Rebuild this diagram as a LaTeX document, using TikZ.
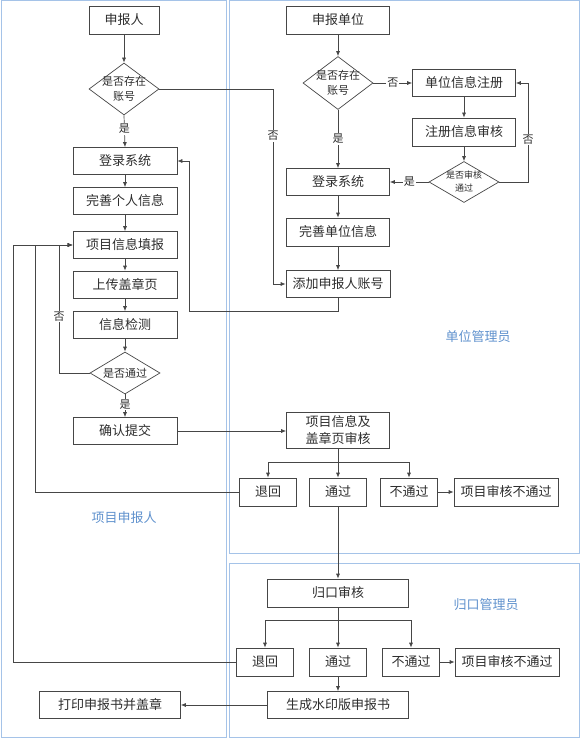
\documentclass[tikz,border=0pt]{standalone}
\usepackage{fontspec}
\setmainfont{Noto Sans CJK SC}
\usetikzlibrary{%
  shapes.geometric,%
  arrows.meta%
}
\definecolor{lanec}{RGB}{165,195,232}
\definecolor{lanetext}{RGB}{95,145,205}
\definecolor{linec}{RGB}{70,70,70}
\definecolor{textc}{RGB}{45,45,45}

\begin{document}
\begin{tikzpicture}[
      x=1pt, y=-1pt,
      every text node part/.style={align=center},
      lane/.style={draw=lanec, line width=1pt},
      lanename/.style={
        text=lanetext,
        inner sep=0pt,
        font=\fontsize{13}{16}\selectfont
      },
      box/.style={
        rectangle,
        draw=linec,
        line width=0.7pt,
        minimum width=#1,
        minimum height=27pt,
        inner sep=0pt,
        text=textc,
        font=\fontsize{13}{17}\selectfont
      },
      box/.default=104pt,
      decide/.style 2 args={
        diamond,
        draw=linec,
        line width=0.7pt,
        minimum width=#1,
        minimum height=#2,
        inner sep=0pt
      },
      dtext/.style={
        text=textc,
        inner sep=0pt,
        font=\fontsize{11}{15}\selectfont
      },
      yesno/.style={
        fill=white,
        inner sep=1pt,
        text=textc,
        font=\fontsize{11}{13}\selectfont
      },
      wire/.style={draw=linec, line width=0.7pt},
      flow/.style={
        wire,
        -{Latex[length=5pt,width=4pt]}
      }
    ]
    \useasboundingbox (0,0) rectangle (581,738);

    \draw[lane] (1,1) rectangle (226,737);
    \draw[lane] (229,1) rectangle (579,553);
    \draw[lane] (229,563) rectangle (579,737);

    \node[lanename] (lblA) at (124,518) {项目申报人};
    \node[lanename] (lblB) at (478,337) {单位管理员};
    \node[lanename] (lblC) at (486,605) {归口管理员};

    \node[box=70pt, minimum height=28pt]
      (sbr) at (124,20)
      {申报人};
    \node[decide={70pt}{52pt}]
      (dia1) at (124,89) {};
    \node[dtext] (dia1t) at (dia1) {是否存在\\账号};
    \node[box] (lg1) at (125,161) {登录系统};
    \node[box] (ws1) at (125,201) {完善个人信息};
    \node[box] (tb) at (125,245) {项目信息填报};
    \node[box] (sc) at (125,284.5) {上传盖章页};
    \node[box] (jc) at (125,325) {信息检测};
    \node[decide={70pt}{42pt}]
      (dia2) at (125,373) {};
    \node[dtext] (dia2t) at (dia2) {是否通过};
    \node[box] (qr) at (125,431) {确认提交};

    \node[box=103pt, minimum height=28pt]
      (sbdw) at (338,20)
      {申报单位};
    \node[decide={70pt}{53pt}]
      (dia3) at (338,83) {};
    \node[dtext] (dia3t) at (dia3) {是否存在\\账号};
    \node[box=103pt] (zc) at (464,83) {单位信息注册};
    \node[box=103pt, minimum height=28pt] (sh) at (464,132) {注册信息审核};
    \node[decide={70pt}{41pt}]
      (dia4) at (464,182) {};
    \node[dtext, font=\fontsize{9}{13}\selectfont]
      (dia4t) at (dia4)
      {是否审核\\通过};
    \node[box=103pt] (lg2) at (338,182) {登录系统};
    \node[box=103pt, minimum height=28pt] (ws2) at (338,232) {完善单位信息};
    \node[box=104pt] (tj) at (338,284) {添加申报人账号};

    \node[box=103pt, minimum height=36pt, font=\fontsize{13}{17}\selectfont]
      (xs) at (338,430)
      {项目信息及\\盖章页审核};
    \node[box=57pt, minimum height=28pt] (th1) at (268,492) {退回};
    \node[box=57pt, minimum height=28pt] (tg1) at (338,492) {通过};
    \node[box=57pt, minimum height=28pt] (btg1) at (409,492) {不通过};
    \node[box=104pt, minimum height=28pt] (bt1) at (506,492) {项目审核不通过};

    \node[box=141pt, minimum height=28pt] (gk) at (338,593) {归口审核};
    \node[box=57pt, minimum height=28pt] (th2) at (265,662) {退回};
    \node[box=57pt, minimum height=28pt] (tg2) at (338,662) {通过};
    \node[box=57pt, minimum height=28pt] (btg2) at (411,662) {不通过};
    \node[box=104pt, minimum height=28pt] (bt2) at (507,662) {项目审核不通过};
    \node[box=141pt] (sy) at (338,705) {生成水印版申报书};
    \node[box=141pt] (dy) at (110,705) {打印申报书并盖章};

    \coordinate (railA) at (273,0);
    \coordinate (railB) at (189,311);
    \coordinate (railC) at (528,0);
    \coordinate (railD) at (59,0);
    \coordinate (railE) at (35,0);
    \coordinate (railF) at (13,0);
    \coordinate (fork1) at (0,462);
    \coordinate (fork2) at (0,620);

    \draw[flow] (sbr) -- (dia1);
    \draw[flow] (dia1.south) -- node[yesno, pos=0.42] (y1) {是} (lg1.north);
    \draw[flow] (lg1) -- (ws1);
    \draw[flow] (ws1) -- (tb);
    \draw[flow] (tb) -- (sc);
    \draw[flow] (sc) -- (jc);
    \draw[flow] (jc) -- (dia2);
    \draw[flow] (dia2.south) -- node[yesno, pos=0.45] (y2) {是} (qr.north);
    \draw[flow] (dia2.west) -- (dia2.west -| railD)
      -- node[yesno, pos=0.44] (n2) {否} (tb.west -| railD) -- (tb.west);
    \draw[flow] (dia1.east) -- (dia1.east -| railA)
      -- node[yesno, pos=0.24] (n1) {否} (tj.west -| railA) -- (tj.west);

    \draw[flow] (sbdw) -- (dia3);
    \draw[flow] (dia3.east) -- node[yesno, pos=0.5] (n3) {否} (zc.west);
    \draw[flow] (dia3.south) -- node[yesno, pos=0.5] (y3) {是} (lg2.north);
    \draw[flow] (zc) -- (sh);
    \draw[flow] (sh) -- (dia4);
    \draw[flow] (dia4.west) -- node[yesno, pos=0.5] (y4) {是} (lg2.east);
    \draw[flow] (dia4.east) -- (dia4.east -| railC)
      -- node[yesno, pos=0.43] (n4) {否} (zc.east -| railC) -- (zc.east);
    \draw[flow] (lg2) -- (ws2);
    \draw[flow] (ws2) -- (tj);
    \draw[flow] (tj.south) -- (tj.south |- railB) -- (railB)
      -- (railB |- lg1.east) -- (lg1.east);

    \draw[flow] (qr.east) -- (qr.east -| xs.west);
    \draw[wire] (xs.south) -- (xs.south |- fork1);
    \draw[wire] (fork1 -| th1) -- (fork1 -| btg1);
    \draw[flow] (fork1 -| th1) -- (th1.north);
    \draw[flow] (xs.south) -- (tg1.north);
    \draw[flow] (fork1 -| btg1) -- (btg1.north);
    \draw[flow] (btg1) -- (bt1);
    \draw[flow] (th1.west) -- (th1.west -| railE)
      -- (tb.west -| railE) -- (tb.west);

    \draw[flow] (tg1.south) -- (gk.north);
    \draw[wire] (gk.south) -- (gk.south |- fork2);
    \draw[wire] (fork2 -| th2) -- (fork2 -| btg2);
    \draw[flow] (fork2 -| th2) -- (th2.north);
    \draw[flow] (gk.south) -- (tg2.north);
    \draw[flow] (fork2 -| btg2) -- (btg2.north);
    \draw[flow] (btg2) -- (bt2);
    \draw[flow] (th2.west) -- (th2.west -| railF)
      -- (tb.west -| railF) -- (tb.west);
    \draw[flow] (tg2) -- (sy);
    \draw[flow] (sy) -- (dy);
  \end{tikzpicture}
\end{document}
